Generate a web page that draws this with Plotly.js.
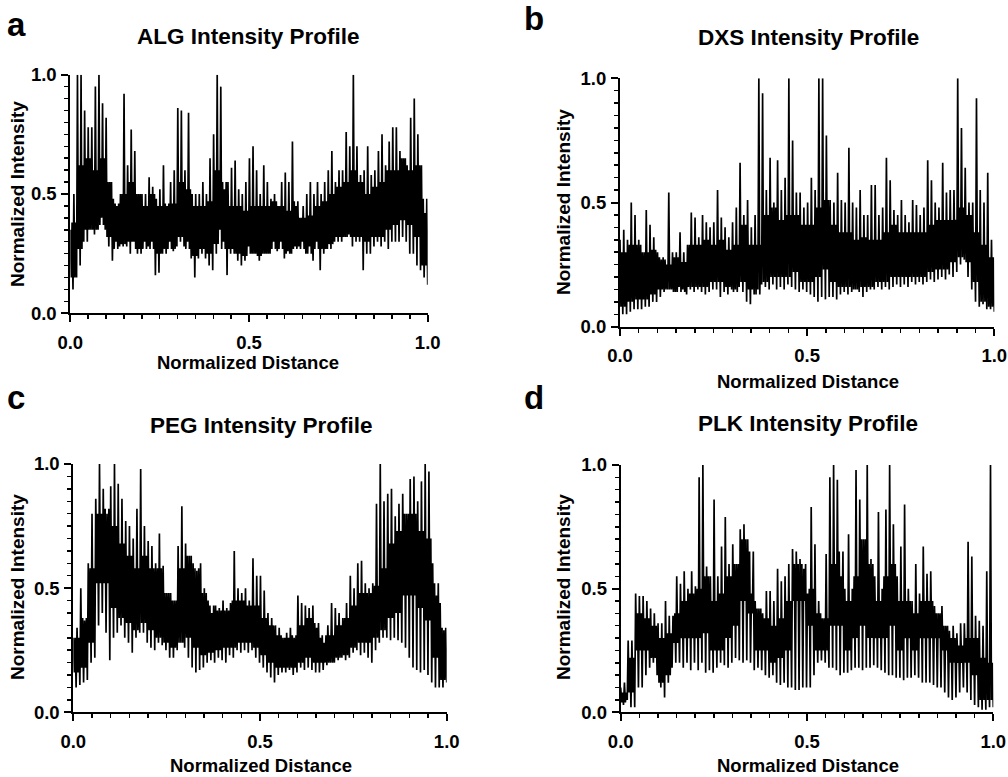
<!DOCTYPE html>
<html><head><meta charset="utf-8">
<script src="https://cdn.plot.ly/plotly-3.0.1.min.js"></script>
<style>html,body{margin:0;padding:0;background:#fff}#chart{width:1008px;height:777px}</style>
</head><body><div id="chart"></div>
<script>
const panelTitles = ['ALG Intensity Profile', 'DXS Intensity Profile', 'PEG Intensity Profile', 'PLK Intensity Profile'];
const panelLetters = ['a', 'b', 'c', 'd'];
const xAxisLabel = 'Normalized Distance';
const yAxisLabel = 'Normalized Intensity';

// Each profile: per 0.01 of distance, the local peak and trough; per 0.02, top and bottom of dense core band.
const algPeak = [.35,.5,1,1,.85,.78,.78,.95,1,.88,
.82,.55,.48,.45,.5,.92,.62,.77,.68,.5,
.5,.5,.57,.53,.48,.52,.62,.45,.55,.6,
.86,.85,.6,.84,.5,.5,.5,.55,.5,.65,
.75,1,.95,.52,.55,.61,.64,.52,.5,.55,
.65,.7,.6,.5,.62,.55,.48,.5,.45,.55,
.59,.55,.72,.45,.4,.45,.5,.55,.5,.55,
.5,.55,.6,.68,.55,.6,.6,.76,.7,1,
.7,.58,.6,.7,.58,.6,.68,.75,.62,.72,
.78,.78,.68,.65,.62,.82,.9,.75,.62,.42];
const algTrough = [.1,.15,.2,.3,.3,.35,.33,.35,.4,.35,
.28,.22,.3,.28,.28,.28,.25,.3,.25,.25,
.3,.28,.3,.16,.17,.25,.25,.3,.26,.28,
.3,.28,.3,.23,.15,.23,.25,.23,.2,.18,
.25,.35,.3,.16,.25,.25,.22,.2,.22,.28,
.25,.25,.22,.25,.25,.25,.3,.26,.3,.23,
.26,.25,.28,.28,.3,.25,.28,.22,.3,.18,
.25,.27,.27,.3,.3,.3,.32,.33,.28,.3,
.3,.18,.25,.25,.28,.3,.28,.3,.27,.3,
.3,.3,.32,.3,.25,.25,.2,.18,.15,.12];
const algCoreHi = [.38,.62,.65,.6,.65,.55,.46,.5,.55,.5,.45,.5,.45,.46,.46,.55,.52,.45,.45,.47,.6,.55,.45,.45,.43,.45,.45,.45,.47,.45,.43,.47,.4,.41,.45,.47,.5,.53,.55,.6,.55,.5,.53,.55,.6,.6,.65,.6,.62,.48];
const algCoreLo = [.15,.27,.35,.35,.37,.32,.27,.29,.3,.27,.27,.27,.25,.27,.27,.32,.27,.24,.27,.25,.29,.27,.27,.25,.24,.25,.24,.25,.27,.27,.25,.27,.27,.25,.27,.27,.29,.32,.32,.32,.32,.3,.32,.32,.35,.37,.39,.37,.32,.2];

const dxsPeak = [.35,.39,.35,.5,.45,.35,.3,.47,.41,.36,
.3,.27,.27,.54,.3,.3,.38,.3,.33,.46,
.44,.36,.45,.42,.4,.42,.55,.44,.4,.36,
.42,.48,.66,.45,.51,.4,.45,1,.94,.55,
.68,.5,.67,.55,.6,1,.75,.54,.54,.48,
.5,.6,.55,1,1,.77,.51,.5,.62,.51,
.5,.72,.5,.48,.55,.45,.45,.57,.57,.45,
.48,.68,.59,.47,.45,.51,.45,.42,.51,.49,
.45,.48,.67,.59,.5,.48,.66,.54,.55,.55,
1,.8,.64,.5,.5,.92,.55,.5,.62,.35];
const dxsTrough = [.05,.05,.06,.07,.07,.07,.08,.08,.1,.1,
.12,.14,.15,.15,.14,.16,.15,.13,.15,.14,
.15,.14,.13,.14,.15,.15,.12,.14,.13,.15,
.15,.16,.14,.1,.09,.13,.15,.17,.16,.15,
.17,.15,.16,.15,.17,.16,.15,.14,.15,.14,
.13,.12,.1,.12,.11,.12,.12,.11,.13,.14,
.13,.14,.15,.14,.12,.14,.15,.15,.16,.15,
.16,.15,.16,.17,.16,.17,.16,.18,.17,.18,
.17,.18,.19,.18,.19,.2,.19,.21,.2,.22,
.25,.27,.2,.15,.1,.08,.09,.07,.07,.06];
const dxsCoreHi = [.3,.33,.33,.3,.31,.28,.25,.28,.26,.33,.33,.35,.33,.35,.31,.33,.41,.33,.33,.45,.48,.43,.45,.45,.41,.41,.48,.51,.41,.38,.38,.35,.36,.35,.35,.38,.41,.38,.38,.38,.38,.41,.43,.43,.43,.48,.45,.38,.33,.28];
const dxsCoreLo = [.08,.1,.11,.11,.13,.15,.15,.14,.14,.16,.16,.16,.18,.18,.16,.14,.18,.15,.13,.18,.2,.2,.2,.22,.18,.18,.2,.23,.18,.16,.16,.15,.16,.16,.18,.18,.2,.2,.2,.2,.2,.22,.23,.23,.26,.28,.26,.18,.1,.08];

const pegPeak = [.3,.34,.5,.37,.6,.8,.86,1,.9,.8,
.91,1,.92,.86,.77,.75,.7,.82,.98,.75,
.69,.67,.6,.72,.59,.48,.48,.45,.67,.83,
.68,.63,.6,.57,.6,.5,.45,.4,.43,.42,
.45,.42,.44,.65,.5,.48,.5,.45,.62,.55,
.55,.49,.4,.38,.35,.34,.3,.32,.34,.3,
.47,.44,.43,.42,.43,.34,.3,.28,.35,.44,
.42,.4,.38,.44,.55,.5,.6,.61,.52,.5,
.52,.84,1,.85,.88,.9,.79,.84,.88,.8,
.94,.95,.85,.93,1,.97,.6,.47,.44,.33];
const pegTrough = [.1,.11,.12,.13,.2,.22,.35,.4,.32,.21,
.3,.32,.35,.3,.28,.24,.3,.32,.32,.28,
.26,.25,.28,.27,.25,.22,.22,.25,.28,.26,
.22,.18,.16,.17,.18,.2,.21,.2,.22,.21,
.2,.23,.22,.25,.24,.25,.24,.25,.22,.2,
.18,.16,.14,.12,.15,.16,.16,.17,.15,.16,
.18,.17,.18,.17,.16,.16,.17,.19,.2,.2,
.21,.22,.21,.22,.24,.25,.23,.24,.22,.2,
.25,.28,.3,.3,.29,.3,.29,.28,.26,.22,
.18,.17,.16,.17,.15,.12,.1,.1,.1,.12];
const pegCoreHi = [.3,.38,.58,.8,.82,.75,.68,.63,.58,.63,.58,.58,.48,.45,.58,.63,.58,.48,.43,.41,.41,.45,.45,.43,.43,.38,.35,.31,.3,.31,.35,.38,.36,.31,.31,.35,.38,.43,.48,.48,.51,.58,.68,.73,.8,.8,.73,.7,.52,.34];
const pegCoreLo = [.16,.18,.28,.52,.52,.42,.38,.36,.33,.36,.33,.3,.28,.26,.28,.3,.26,.23,.24,.25,.26,.26,.28,.28,.26,.23,.2,.18,.18,.18,.2,.22,.2,.2,.2,.22,.23,.26,.28,.28,.3,.33,.38,.4,.47,.47,.42,.37,.22,.13];

const plkPeak = [.1,.12,.29,.29,.48,.47,.47,.45,.42,.4,
.36,.36,.45,.39,.39,.55,.52,.57,.5,.57,
.51,.95,1,.59,.55,.86,.55,.67,.79,.6,
.68,.6,.74,.76,.7,.48,.45,.42,.4,.49,
.49,.45,.58,.53,.55,.6,.66,.65,.62,.58,
.48,.83,.68,.45,.38,.64,.95,1,.94,.55,
.5,.72,.5,.98,.86,.7,1,.62,.55,.81,
.5,.82,1,.76,.55,.67,.84,.5,.45,.6,
.48,.67,.56,.57,.43,.4,.43,.35,.33,.35,
.32,.36,.36,.69,.63,.39,.37,.35,.57,1];
const plkTrough = [.03,.05,.02,.02,.1,.1,.15,.18,.2,.15,
.1,.06,.12,.18,.2,.2,.18,.2,.17,.2,
.17,.2,.16,.17,.16,.18,.2,.19,.18,.2,
.22,.21,.2,.21,.2,.17,.18,.17,.15,.14,
.15,.12,.11,.12,.1,.1,.09,.09,.1,.1,
.1,.15,.2,.21,.2,.18,.18,.17,.15,.16,
.16,.17,.18,.18,.17,.18,.18,.19,.18,.17,
.16,.15,.15,.14,.14,.13,.14,.14,.15,.14,
.12,.12,.12,.11,.1,.1,.08,.06,.05,.06,
.08,.1,.08,.05,.03,.02,.01,.01,.02,.02];
const plkCoreHi = [.08,.22,.4,.38,.35,.3,.32,.4,.45,.48,.5,.55,.45,.48,.55,.6,.7,.65,.42,.38,.35,.38,.45,.6,.6,.5,.4,.38,.6,.65,.45,.55,.7,.6,.45,.55,.6,.45,.45,.4,.45,.45,.4,.35,.3,.27,.3,.3,.22,.2];
const plkCoreLo = [.04,.08,.25,.25,.22,.12,.15,.28,.3,.3,.3,.32,.25,.25,.3,.35,.45,.4,.25,.25,.2,.22,.25,.45,.45,.35,.25,.25,.35,.35,.25,.3,.35,.3,.3,.3,.35,.25,.3,.25,.3,.3,.3,.25,.2,.2,.2,.15,.05,.05];

function buildSeries(peak, trough, coreHi, coreLo) {
  const y = [];
  for (let i = 0; i < peak.length; i++) {
    const c = Math.floor(i / 2);
    y.push(peak[i], coreLo[c], coreHi[c], trough[i]);
  }
  const x = y.map((_, j) => j / (y.length - 1));
  return {x, y};
}

const series = [
  buildSeries(algPeak, algTrough, algCoreHi, algCoreLo),
  buildSeries(dxsPeak, dxsTrough, dxsCoreHi, dxsCoreLo),
  buildSeries(pegPeak, pegTrough, pegCoreHi, pegCoreLo),
  buildSeries(plkPeak, plkTrough, plkCoreHi, plkCoreLo)
];

const W = 1008, H = 777;
// plot boxes in pixels: [left, right, top, bottom]
const boxes = [[70.3, 427.7, 74.7, 313.3], [620, 994.3, 78.3, 326.7], [73.3, 446.7, 464, 712.3], [620.7, 993.3, 465, 712.3]];
const letterPos = [[16, 24], [534, 19], [16, 397], [534, 397]];
const titlePos = [[248, 36], [808, 37], [261, 425], [808, 423]];
const yTitlePos = [[17, 194], [563, 202], [17, 587], [563, 587]];
const xTitlePos = [[248, 363], [808, 381], [261, 765], [808, 765]];

const FONT = 'Liberation Sans, Arial, sans-serif';
const px = v => v / W, py = v => 1 - v / H;

const traces = [];
const layout = {
  width: W, height: H, margin: {l: 0, r: 0, t: 0, b: 0},
  paper_bgcolor: '#fff', plot_bgcolor: '#fff', showlegend: false,
  annotations: []
};

function axisCommon() {
  return {
    range: [0, 1], tick0: 0, dtick: 0.5, tickformat: '.1f',
    ticks: 'outside', ticklen: 7, tickwidth: 2, tickcolor: '#000',
    showline: true, linewidth: 2, linecolor: '#000',
    showgrid: false, zeroline: false, fixedrange: true,
    tickfont: {family: FONT, size: 18.5, color: '#000', weight: 'bold'},
    minor: {dtick: 0.05, tick0: 0, ticks: 'outside', ticklen: 4, tickwidth: 1.5, tickcolor: '#000', showgrid: false}
  };
}

series.forEach((s, k) => {
  const n = k === 0 ? '' : String(k + 1);
  const b = boxes[k];
  traces.push({
    type: 'scatter', mode: 'lines', x: s.x, y: s.y,
    xaxis: 'x' + n, yaxis: 'y' + n,
    line: {color: '#000', width: 1.7}, hoverinfo: 'skip'
  });
  layout['xaxis' + n] = Object.assign(axisCommon(), {domain: [px(b[0]), px(b[1])], anchor: 'y' + n, ticklabelstandoff: 4});
  layout['yaxis' + n] = Object.assign(axisCommon(), {domain: [py(b[3]), py(b[2])], anchor: 'x' + n, ticklabelstandoff: 1});
  const ann = (pos, text, size, angle) => layout.annotations.push({
    xref: 'paper', yref: 'paper', x: px(pos[0]), y: py(pos[1]),
    xanchor: 'center', yanchor: 'middle', showarrow: false, textangle: angle || 0,
    text: '<b>' + text + '</b>', font: {family: FONT, size: size, color: '#000'}
  });
  ann(letterPos[k], panelLetters[k], 33);
  ann(titlePos[k], panelTitles[k], 22.5);
  ann(yTitlePos[k], yAxisLabel, 19, -90);
  ann(xTitlePos[k], xAxisLabel, 18.5);
});

Plotly.newPlot('chart', traces, layout, {displayModeBar: false, staticPlot: true});
</script>
</body></html>
